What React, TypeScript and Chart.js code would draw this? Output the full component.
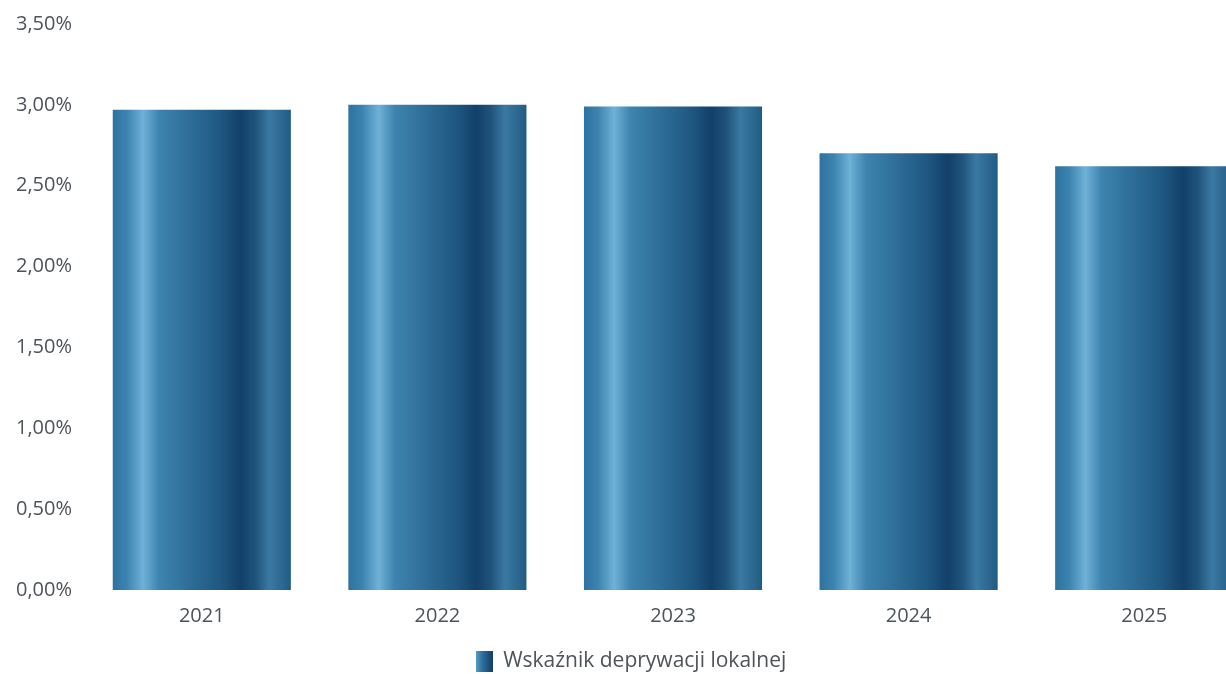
import React, { useEffect, useRef } from "react";
import { Chart, registerables } from "chart.js";

Chart.register(...registerables);

const categories = ["2021", "2022", "2023", "2024", "2025"];
const values = [2.97, 3.0, 2.99, 2.7, 2.62];
const seriesLabel = "Wskaźnik deprywacji lokalnej";
const yTicks = [0, 0.5, 1, 1.5, 2, 2.5, 3, 3.5];

const gradientStops: [number, string][] = [
  [0, "#2d72a0"],
  [0.08, "#3c84b0"],
  [0.17, "#6fb1d7"],
  [0.26, "#3d84af"],
  [0.45, "#2c6b95"],
  [0.6, "#1f5881"],
  [0.72, "#12406a"],
  [0.8, "#1f537b"],
  [0.88, "#3a79a2"],
  [1, "#215b83"],
];

const BAR_PCT = 0.756;
const FONT = "'Open Sans', sans-serif";
const TEXT = "#4d535a";

function makeLegendIcon(): HTMLCanvasElement {
  const c = document.createElement("canvas");
  c.width = 17;
  c.height = 21;
  const g = c.getContext("2d")!;
  const grad = g.createLinearGradient(0, 0, 17, 0);
  grad.addColorStop(0, "#5aa0c8");
  grad.addColorStop(0.4, "#2c6f9b");
  grad.addColorStop(1, "#123f66");
  g.fillStyle = grad;
  g.fillRect(0, 0, 17, 21);
  return c;
}

export default function App() {
  const ref = useRef<HTMLCanvasElement | null>(null);

  useEffect(() => {
    if (!ref.current) return;
    const icon = makeLegendIcon();
    const chart = new Chart(ref.current, {
      type: "bar",
      data: {
        labels: categories,
        datasets: [
          {
            label: seriesLabel,
            data: values,
            barPercentage: BAR_PCT,
            categoryPercentage: 1,
            borderWidth: 0,
            pointStyle: icon as any,
            backgroundColor: (ctx: any) => {
              const ch = ctx.chart;
              const xs = ch.scales?.x;
              if (!xs || !ch.chartArea) return "#2a6a94";
              const center = xs.getPixelForValue(ctx.dataIndex);
              const catW = (ch.chartArea.right - ch.chartArea.left) / categories.length;
              const half = (catW * BAR_PCT) / 2;
              const grad = ch.ctx.createLinearGradient(center - half, 0, center + half, 0);
              gradientStops.forEach(([o, c]) => grad.addColorStop(o, c));
              return grad;
            },
          },
        ],
      },
      options: {
        animation: false,
        responsive: false,
        maintainAspectRatio: false,
        layout: { padding: { left: 0, right: 12, top: 10, bottom: -8 } },
        plugins: {
          tooltip: { enabled: false },
          legend: {
            position: "bottom",
            labels: {
              usePointStyle: true,
              boxWidth: 17,
              boxHeight: 21,
              padding: 4,
              color: TEXT,
              font: { family: FONT, size: 21 },
            },
          },
        },
        scales: {
          x: {
            grid: { display: false },
            border: { display: false },
            afterFit: (s: any) => {
              s.height = 57;
            },
            ticks: {
              color: TEXT,
              padding: 6,
              font: { family: FONT, size: 20 },
            },
          },
          y: {
            min: 0,
            max: 3.5,
            afterFit: (s: any) => {
              s.width = 84;
            },
            afterBuildTicks: (s: any) => {
              s.ticks = yTicks.map((v) => ({ value: v }));
            },
            grid: { display: false, drawTicks: false },
            border: { display: false },
            ticks: {
              color: TEXT,
              padding: 12,
              font: { family: FONT, size: 20 },
              callback: (v: any) => Number(v).toFixed(2).replace(".", ",") + "%",
            },
          },
        },
      },
    });
    return () => chart.destroy();
  }, []);

  return (
    <div
      style={{
        position: "fixed",
        left: 0,
        top: 0,
        width: 1226,
        height: 674,
        overflow: "hidden",
        background: "#ffffff",
      }}
    >
      <canvas ref={ref} width={1274} height={674} style={{ display: "block" }} />
    </div>
  );
}
